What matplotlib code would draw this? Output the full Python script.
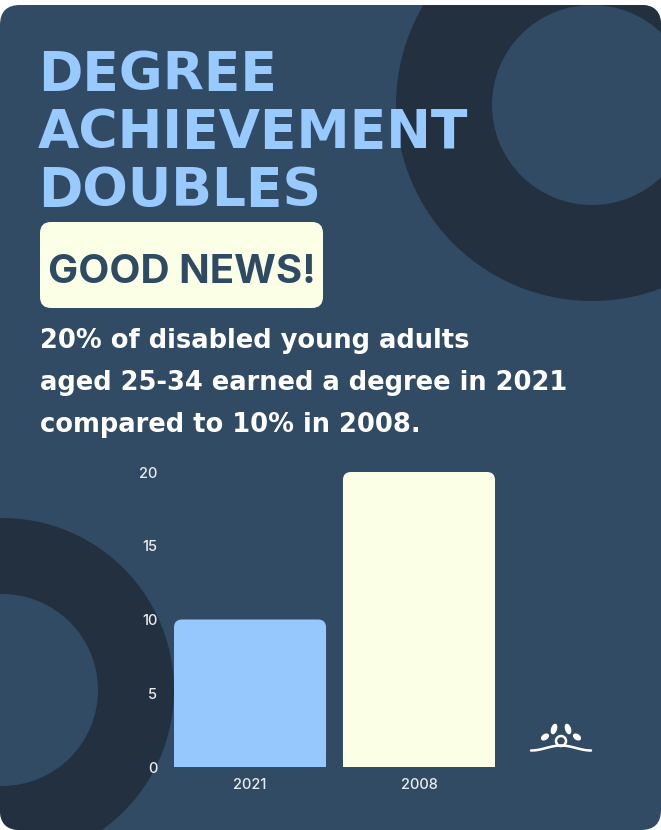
import matplotlib
matplotlib.use("Agg")
import matplotlib.pyplot as plt
from matplotlib.patches import FancyBboxPatch, Circle, Wedge, Ellipse, Rectangle
import numpy as np

# data
years = ["2021", "2008"]
values = [10, 20]
bar_colors = ["#97c8fd", "#fbffe6"]
yticks = [0, 5, 10, 15, 20]

title_lines = ["DEGREE", "ACHIEVEMENT", "DOUBLES"]
badge_text = "GOOD NEWS!"
body_lines = ["20% of disabled young adults",
              "aged 25-34 earned a degree in 2021",
              "compared to 10% in 2008."]

W, H = 661, 830
card = "#314b64"
ring = "#22303f"

fig = plt.figure(figsize=(W / 100, H / 100), dpi=100)
fig.patch.set_facecolor("white")

# background layer in pixel coordinates
bg = fig.add_axes([0, 0, 1, 1])
bg.set_xlim(0, W)
bg.set_ylim(H, 0)
bg.axis("off")

card_patch = FancyBboxPatch((0, 5), W, H - 5, boxstyle="round,pad=0,rounding_size=20",
                            fc=card, ec="none")
bg.add_patch(card_patch)

# decorative rings
for cx, cy, r_out, r_in in [(592, 105, 196, 100), (2, 690, 172, 96)]:
    w = Wedge((cx, cy), r_out, 0, 360, width=r_out - r_in, fc=ring, ec="none")
    w.set_clip_path(card_patch)
    bg.add_patch(w)

# title
for i, line in enumerate(title_lines):
    bg.text(38, 90 + i * 58, line, fontsize=38.5, fontweight="bold", family="DejaVu Sans",
            color="#98c9ff", va="baseline", ha="left")

# badge
bg.add_patch(FancyBboxPatch((40, 222), 283, 86, boxstyle="round,pad=0,rounding_size=11",
                            fc="#fbffe6", ec="none"))
bg.text(182, 283, badge_text, fontsize=29, fontweight="bold", family="Inter",
        color="#2f4a63", va="baseline", ha="center")

# body text
for i, line in enumerate(body_lines):
    bg.text(40, 348 + i * 42, line, fontsize=18.5, fontweight="bold", family="DejaVu Sans",
            color="white", va="baseline", ha="left")

# small lotus logo
lx, ly = 561, 741
xs = np.linspace(lx - 30, lx + 30, 80)
ys = ly + 7 - 2.5 * np.cos((xs - lx) / 30 * np.pi)
bg.plot(xs, ys, color="white", lw=1.8, solid_capstyle="round")
bg.add_patch(Circle((lx, ly), 5, fc=card, ec="white", lw=1.8))
for dx, dy, w_, h_, ang in [(-7, -12, 6, 11, 18), (7, -12, 6, 11, -18),
                            (-16, -4, 6, 9, 55), (16, -4, 6, 9, -55)]:
    bg.add_patch(Ellipse((lx + dx, ly + dy), w_, h_, angle=ang, fc="white", ec="none"))

# bar chart
ax = fig.add_axes([174 / W, (H - 767) / H, 321 / W, 295 / H])
ax.patch.set_alpha(0)
x = np.arange(len(years))
bars = ax.bar(x, values, width=0.9, color=bar_colors)
ax.set_xlim(-0.45, 1.45)
ax.set_ylim(0, 20)

# round the top corners of each bar
rx = 8 * 1.9 / 321
aspect = (20 / 295) / (1.9 / 321)
for b in bars:
    bx, by = b.get_x(), b.get_y()
    bw, bh = b.get_width(), b.get_height()
    fc = b.get_facecolor()
    b.set_visible(False)
    ax.add_patch(FancyBboxPatch((bx, by), bw, bh,
                                boxstyle=f"round,pad=0,rounding_size={rx}",
                                mutation_aspect=aspect, fc=fc, ec="none"))
    ax.add_patch(Rectangle((bx, by), bw, bh / 2, fc=fc, ec="none"))

ax.set_xticks(x, years)
ax.set_yticks(yticks)
ax.tick_params(length=0, colors="#e9edf0", labelsize=10.5)
ax.tick_params(axis="y", pad=12)
ax.tick_params(axis="x", pad=8)
for lab in ax.get_xticklabels() + ax.get_yticklabels():
    lab.set_family("Inter")
    lab.set_fontweight("medium")
for s in ax.spines.values():
    s.set_visible(False)

fig.savefig("out.png", dpi=100)
